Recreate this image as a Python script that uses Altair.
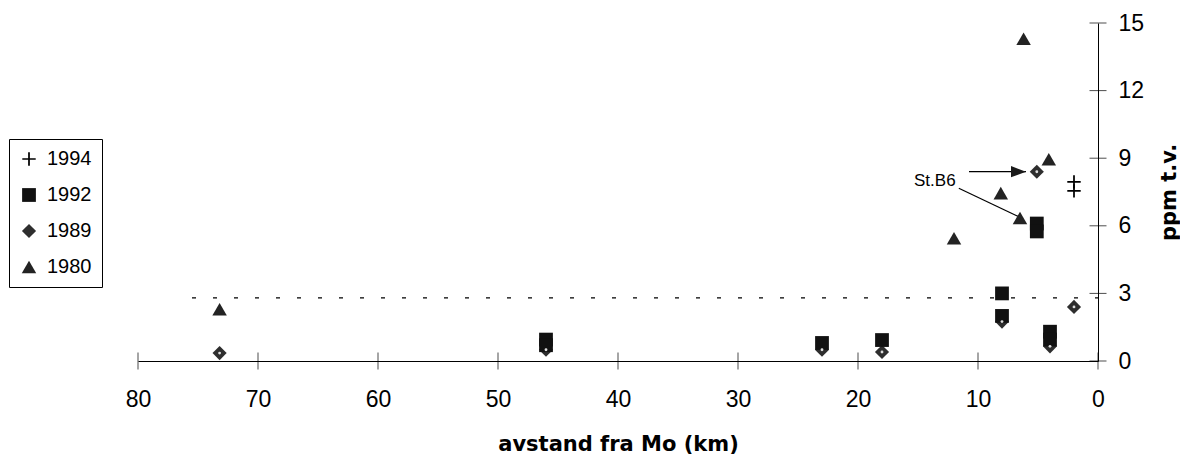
import altair as alt
import pandas as pd

# 1980 (triangles)
tri_km = [73.2, 12.0, 8.1, 6.5, 6.2, 4.1]
tri_ppm = [2.3, 5.45, 7.45, 6.35, 14.3, 8.95]
# 1989 (diamonds)
dia_km = [73.2, 46.0, 23.0, 18.0, 8.0, 5.1, 4.0, 2.0]
dia_ppm = [0.35, 0.5, 0.5, 0.4, 1.75, 8.4, 0.65, 2.4]
# 1992 (squares)
sq_km = [46.0, 46.0, 23.0, 18.0, 8.0, 8.0, 5.1, 5.1, 4.0, 4.0]
sq_ppm = [0.95, 0.7, 0.8, 0.93, 3.0, 2.0, 6.1, 5.75, 1.3, 0.95]
# 1994 (plus)
plus_km = [2.0, 2.0]
plus_ppm = [7.95, 7.55]

years = ["1994", "1992", "1989", "1980"]
x_ticks = [80, 70, 60, 50, 40, 30, 20, 10, 0]
y_ticks = [0, 3, 6, 9, 12, 15]

# dashed reference level
limit_ppm = [2.8]
limit_from = [75.5]
limit_to = [0]

# St.B6 annotation
label_text = ["St.B6"]
label_km = [13.6]
label_ppm = [7.98]
arrow_km = [10.75, 11.6]
arrow_ppm = [8.4, 7.67]
arrow_km2 = [6.0, 6.4]
arrow_ppm2 = [8.4, 6.35]
arrow_angle = [0, 26]
arrow_head = [True, False]

PLUS = "M-1,-0.13H-0.13V-1H0.13V-0.13H1V0.13H0.13V1H-0.13V0.13H-1Z"
HEAD = "M0,0L-2,-0.75L-2,0.75Z"
FONT = "Liberation Sans"
TITLE_FONT = "DejaVu Sans"

rows = []
for yr, xs, ys in [("1980", tri_km, tri_ppm), ("1989", dia_km, dia_ppm),
                   ("1992", sq_km, sq_ppm), ("1994", plus_km, plus_ppm)]:
    rows += [{"year": yr, "km": a, "ppm": b} for a, b in zip(xs, ys)]
points = pd.DataFrame(rows)

xscale = alt.Scale(domain=[0, 80], reverse=True, nice=False, zero=False)
yscale = alt.Scale(domain=[0, 15], nice=False)

pts = alt.Chart(points).mark_point(filled=True, opacity=1).encode(
    x=alt.X("km:Q", scale=xscale, title="avstand fra Mo (km)",
            axis=alt.Axis(values=x_ticks, ticks=False, grid=False, labelPadding=27,
                          labelFlush=False, labelFontSize=23, labelFont=FONT,
                          labelColor="black", domainColor="black", titleFont=TITLE_FONT,
                          titleFontSize=21, titleFontWeight="bold", titlePadding=22,
                          titleColor="black")),
    y=alt.Y("ppm:Q", scale=yscale, title="ppm t.v.",
            axis=alt.Axis(orient="right", values=y_ticks, ticks=False, grid=False,
                          labelFlush=False, labelPadding=20, labelFontSize=23,
                          labelFont=FONT, labelColor="black", domainColor="black",
                          titleAngle=270, titleFont=TITLE_FONT, titleFontSize=21,
                          titleFontWeight="bold", titlePadding=36, titleColor="black")),
    shape=alt.Shape("year:N", sort=years, title=None,
                    scale=alt.Scale(domain=years, range=[PLUS, "square", "diamond", "triangle-up"])),
    color=alt.Color("year:N", sort=years, title=None,
                    scale=alt.Scale(domain=years, range=["#000000", "#111111", "#2e2e2e", "#232323"]),
                    legend=alt.Legend(orient="none", legendX=-129, legendY=116,
                                      strokeColor="black", padding=10, labelFontSize=20,
                                      labelFont=FONT, labelColor="black", symbolSize=170,
                                      rowPadding=16, labelOffset=8)),
    size=alt.Size("year:N", legend=None,
                  scale=alt.Scale(domain=years, range=[180, 210, 200, 270])),
)

dots = alt.Chart(points).transform_filter(alt.datum.year == "1989").mark_point(
    filled=True, color="#dddddd", shape="circle", size=8, opacity=1
).encode(x=alt.X("km:Q", scale=xscale), y=alt.Y("ppm:Q", scale=yscale))

limit = alt.Chart(pd.DataFrame({"a": limit_from, "b": limit_to, "y": limit_ppm})).mark_rule(
    color="black", strokeDash=[4, 17], strokeWidth=1.2
).encode(x=alt.X("a:Q", scale=xscale), x2="b:Q", y=alt.Y("y:Q", scale=yscale))

xt = alt.Chart(pd.DataFrame({"t": x_ticks})).mark_tick(
    orient="vertical", size=17, thickness=1, color="black"
).encode(x=alt.X("t:Q", scale=xscale), y=alt.datum(0, scale=yscale))

yt = alt.Chart(pd.DataFrame({"t": y_ticks})).mark_tick(
    orient="horizontal", size=17, thickness=1, color="black"
).encode(y=alt.Y("t:Q", scale=yscale), x=alt.datum(0, scale=xscale))

arrows_df = pd.DataFrame({"x": arrow_km, "y": arrow_ppm, "x2": arrow_km2,
                          "y2": arrow_ppm2, "angle": arrow_angle, "head": arrow_head})
arrow_lines = alt.Chart(arrows_df).mark_rule(color="black", strokeWidth=1.2).encode(
    x=alt.X("x:Q", scale=xscale), y=alt.Y("y:Q", scale=yscale), x2="x2:Q", y2="y2:Q")
arrow_heads = alt.Chart(arrows_df).transform_filter(alt.datum.head).mark_point(
    shape=HEAD, filled=True, color="#1a1a1a", size=225, opacity=1
).encode(x=alt.X("x2:Q", scale=xscale), y=alt.Y("y2:Q", scale=yscale),
         angle=alt.Angle("angle:Q", scale=None))

label = alt.Chart(pd.DataFrame({"t": label_text, "x": label_km, "y": label_ppm})).mark_text(
    font=FONT, fontSize=17, color="black"
).encode(x=alt.X("x:Q", scale=xscale), y=alt.Y("y:Q", scale=yscale), text="t:N")

chart = alt.layer(limit, arrow_lines, pts, dots, xt, yt, arrow_heads, label).properties(
    width=960, height=338, background="white",
    padding={"left": 0, "top": 4, "right": 0, "bottom": 0},
).configure_view(strokeWidth=0)

chart.save("out.html", embed_options={"renderer": "svg", "actions": False})
